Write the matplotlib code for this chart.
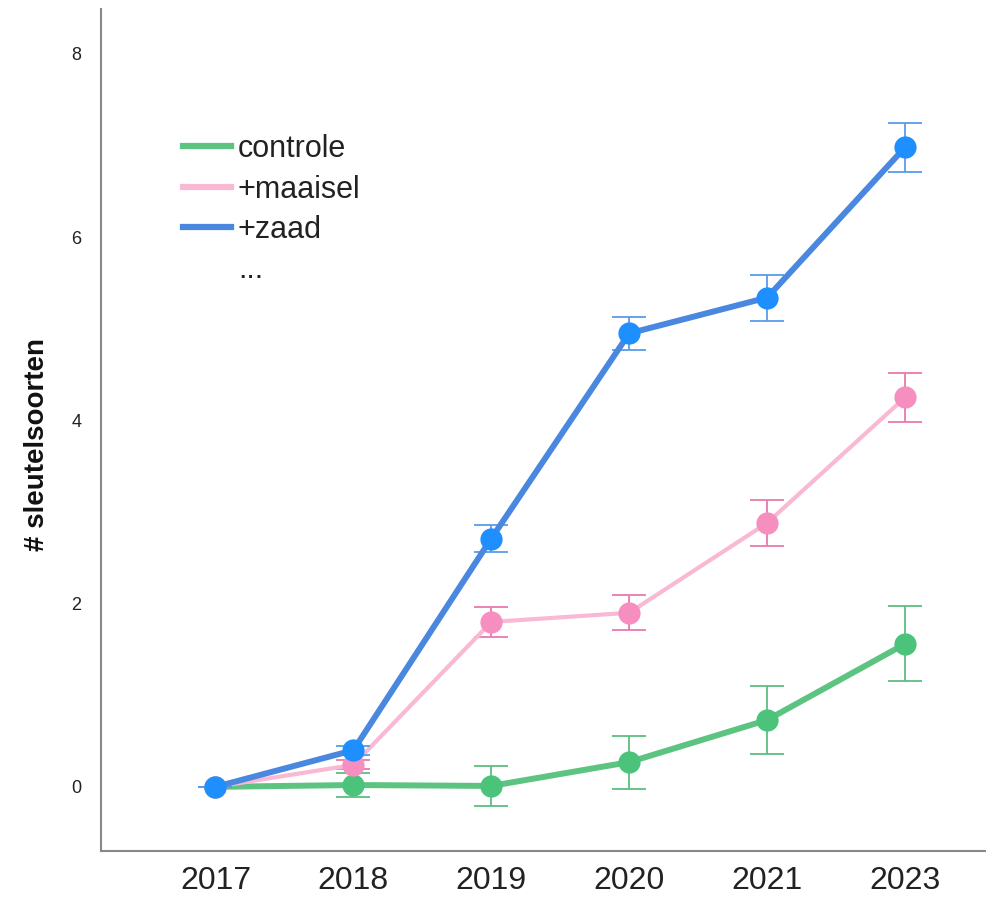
import numpy as np
import matplotlib.pyplot as plt
from matplotlib.lines import Line2D

plt.rcParams['font.family'] = ['Liberation Sans', 'DejaVu Sans']

# jaren en gemiddelde aantallen sleutelsoorten per behandeling
jaren = ['2017', '2018', '2019', '2020', '2021', '2023']
controle = [0.0, 0.02, 0.01, 0.27, 0.73, 1.56]
controle_fout = [0.0, 0.13, 0.22, 0.29, 0.37, 0.41]
maaisel = [0.0, 0.24, 1.80, 1.90, 2.88, 4.25]
maaisel_fout = [0.0, 0.05, 0.16, 0.19, 0.25, 0.27]
zaad = [0.0, 0.40, 2.71, 4.95, 5.34, 6.98]
zaad_fout = [0.0, 0.05, 0.15, 0.18, 0.25, 0.27]

x = np.arange(len(jaren))

fig = plt.figure(figsize=(9.87, 9.01), dpi=100)
ax = fig.add_axes([0.1023, 0.0555, 0.8957, 0.9345])

reeksen = [
    (controle, controle_fout, '#5cc480', '#4cc37a', '#5dbd80', 4.3, 2),
    (maaisel, maaisel_fout, '#f9b9d4', '#f78ec0', '#e87aaf', 3.0, 3),
    (zaad, zaad_fout, '#4a88e0', '#1e8fff', '#5b9be8', 4.3, 4),
]
for waarden, fout, lijnkleur, puntkleur, foutkleur, lw, z in reeksen:
    ax.errorbar(x, waarden, yerr=fout, fmt='none', ecolor=foutkleur,
                elinewidth=1.3, capsize=12, capthick=1.3, zorder=z)
    ax.plot(x, waarden, color=lijnkleur, linewidth=lw, zorder=z + 0.1)
    ax.plot(x, waarden, 'o', color=puntkleur, markersize=16,
            markeredgewidth=0, zorder=z + 0.2)

ax.set_xlim(-0.83, 5.58)
ax.set_ylim(-0.70, 8.49)
ax.set_xticks(x)
ax.set_xticklabels(jaren, fontsize=23, color='#222222')
ax.set_yticks([0, 2, 4, 6, 8])
ax.tick_params(axis='y', labelsize=13, colors='#222222', length=0, pad=14)
ax.tick_params(axis='x', length=0, pad=11)

for kant in ['top', 'right']:
    ax.spines[kant].set_visible(False)
for kant in ['left', 'bottom']:
    ax.spines[kant].set_color('#888888')
    ax.spines[kant].set_linewidth(1.5)

ax.set_ylabel('# sleutelsoorten', fontsize=20, fontweight='bold',
              color='#111111')
ax.yaxis.set_label_coords(-0.058, 0.483)

handles = [
    Line2D([], [], color='#5cc480', linewidth=4.5),
    Line2D([], [], color='#f9b9d4', linewidth=4.5),
    Line2D([], [], color='#4a88e0', linewidth=4.5),
    Line2D([], [], color='none'),
]
ax.legend(handles, ['controle', '+maaisel', '+zaad', '...'],
          loc='upper left', bbox_to_anchor=(0.062, 0.884),
          frameon=False, fontsize=22, handlelength=1.57,
          handletextpad=0.22, labelspacing=0.34, labelcolor='#222222')

fig.savefig('out.png', dpi=100)
